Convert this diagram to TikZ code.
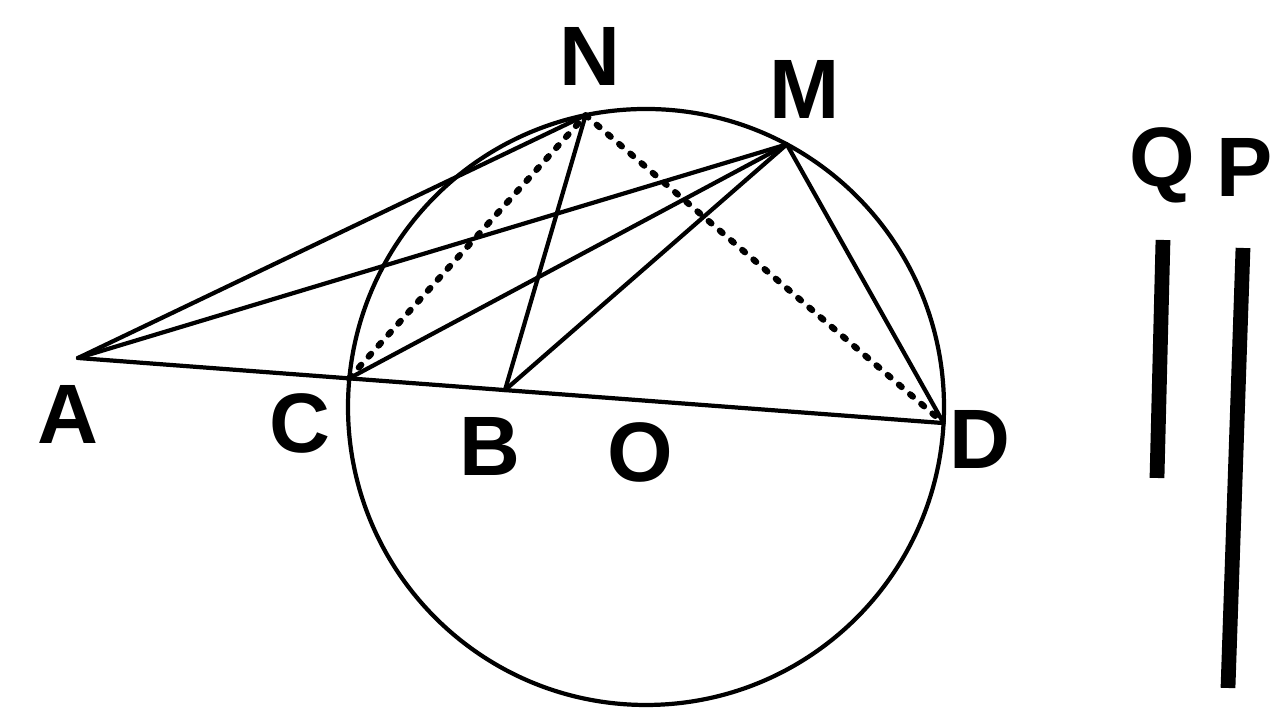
\documentclass[tikz,border=0pt]{standalone}
\usepackage{fontspec}
\setmainfont{Liberation Sans}

\begin{document}
\begin{tikzpicture}[line width=1.2pt, line cap=round,
  lbl/.style={font=\fontsize{24}{24}\selectfont\bfseries, inner sep=0pt},
  dots/.style={dash pattern=on 1pt off 3.2pt, line width=1.8pt},
  bar/.style={line width=4.2pt, line cap=butt}]
  \useasboundingbox (0,0) rectangle (12.72,7.14);
  % points
  \coordinate (O) at (6.46,3.07);
  \coordinate (A) at (0.78,3.56);
  \coordinate (C) at (3.49,3.355);
  \coordinate (B) at (5.05,3.239);
  \coordinate (D) at (9.436,2.909);
  \coordinate (N) at (5.856,5.988);
  \coordinate (M) at (7.868,5.696);
  % circle
  \draw (O) circle (2.98);
  % lines
  \draw (A) -- (D);
  \draw (A) -- (N);
  \draw (A) -- (M);
  \draw (C) -- (M);
  \draw (B) -- (N);
  \draw (B) -- (M);
  \draw (M) -- (D);
  \draw[dots] (C) -- (N);
  \draw[dots] (N) -- (D);
  % labels
  \node[lbl] (lA) at (0.68,2.99) {A};
  \node[lbl] (lC) at (3.00,2.91) {C};
  \node[lbl] (lB) at (4.90,2.67) {B};
  \node[lbl] (lO) at (6.40,2.62) {O};
  \node[lbl] (lD) at (9.80,2.74) {D};
  \node[lbl] (lN) at (5.90,6.57) {N};
  \node[lbl] (lM) at (8.05,6.24) {M};
  \node[lbl] (lQ) at (11.62,5.49) {Q};
  \node[lbl] (lP) at (12.45,5.46) {P};
  % the two lengths
  \coordinate (q1) at (11.63,4.74);
  \coordinate (q2) at (11.57,2.36);
  \coordinate (p1) at (12.43,4.66);
  \coordinate (p2) at (12.28,0.26);
  \draw[bar] (q1) -- (q2);
  \draw[bar] (p1) -- (p2);
\end{tikzpicture}
\end{document}
